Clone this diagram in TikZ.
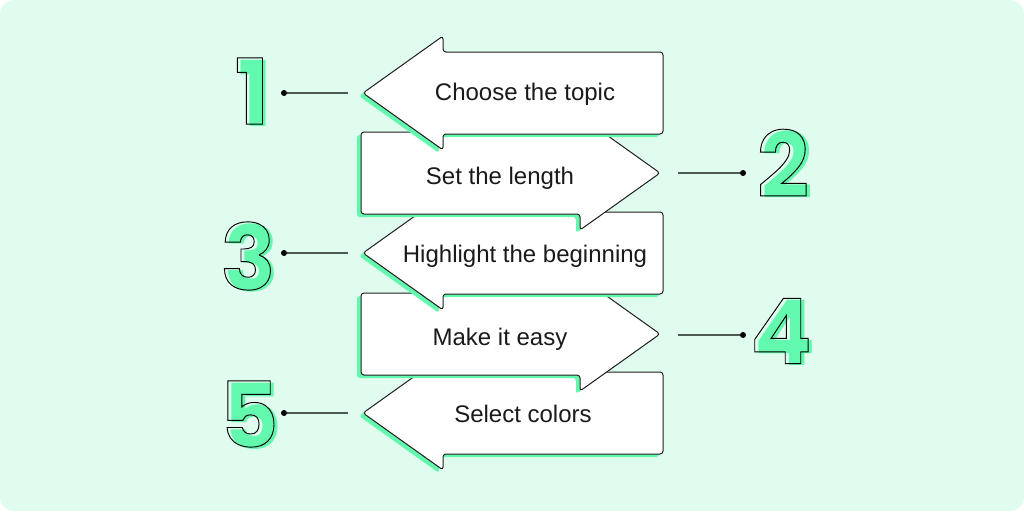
\documentclass[tikz,border=0pt]{standalone}
\usepackage{fontspec}
\setmainfont{Liberation Sans}
\newfontfamily\digitfont{Poppins}[UprightFont=* Bold]
\definecolor{bgmint}{HTML}{E0FCEE}
\definecolor{mintgreen}{HTML}{62F9AE}
\definecolor{edge}{HTML}{1E1E1E}
\definecolor{wire}{HTML}{4D5A52}
\definecolor{ink}{HTML}{1A1A1A}
\newcommand{\strokedtext}[1]{\special{pdf:literal direct 1 Tr 0.7 w 0 0 0 RG}#1\special{pdf:literal direct 0 Tr}}
\tikzset{
  arrowbox/.style={fill=white, draw=edge, line width=0.75pt, rounded corners=2.2pt, line join=round},
  arrowshadow/.style={fill=mintgreen, rounded corners=2.2pt},
  label/.style={font=\fontsize{18}{20}\selectfont, text=ink, inner sep=0pt, anchor=base},
  digitfill/.style={font=\digitfont\fontsize{68}{68}\selectfont, text=mintgreen, inner sep=0pt},
  digitline/.style={font=\digitfont\fontsize{68}{68}\selectfont, text=edge, inner sep=0pt},
  dotnode/.style={circle, fill=black, inner sep=0pt, minimum size=4.5pt},
  wireline/.style={draw=wire, line width=1pt}
}
\newcommand{\leftarrowshape}[1]{%
  (363,#1) -- (443,#1-57) -- (443,#1-41) -- (663,#1-41) -- (663,#1+41) -- (443,#1+41) -- (443,#1+57) -- cycle}
\newcommand{\rightarrowshape}[1]{%
  (361,#1-41) -- (580,#1-41) -- (580,#1-57) -- (660,#1) -- (580,#1+57) -- (580,#1+41) -- (361,#1+41) -- cycle}
\begin{document}
\begin{tikzpicture}[x=0.75pt,y=-0.75pt]
\useasboundingbox (0,0) rectangle (1024,511);
\fill[white] (0,0) rectangle (1024,511);
\fill[bgmint, rounded corners=11pt] (0,0) rectangle (1024,511);

% arrows, bottom first
\fill[arrowshadow, shift={(-4,3)}] \leftarrowshape{413};
\draw[arrowbox] \leftarrowshape{413};
\fill[arrowshadow, shift={(-4,3)}] \rightarrowshape{334};
\draw[arrowbox] \rightarrowshape{334};
\fill[arrowshadow, shift={(-4,3)}] \leftarrowshape{253};
\draw[arrowbox] \leftarrowshape{253};
\fill[arrowshadow, shift={(-4,3)}] \rightarrowshape{173};
\draw[arrowbox] \rightarrowshape{173};
\fill[arrowshadow, shift={(-4,3)}] \leftarrowshape{93};
\draw[arrowbox] \leftarrowshape{93};

% labels
\node[label] (t1) at (525,100) {Choose the topic};
\node[label] (t2) at (500,184) {Set the length};
\node[label] (t3) at (525,262) {Highlight the beginning};
\node[label] (t4) at (500,345) {Make it easy};
\node[label] (t5) at (523,422) {Select colors};

% connectors
\node[dotnode] (d1) at (284,93) {};
\coordinate (e1) at (348,93);
\draw[wireline] (d1) -- (e1);
\node[dotnode] (d2) at (743,173) {};
\coordinate (e2) at (678,173);
\draw[wireline] (e2) -- (d2);
\node[dotnode] (d3) at (284,253) {};
\coordinate (e3) at (348,253);
\draw[wireline] (d3) -- (e3);
\node[dotnode] (d4) at (743,335) {};
\coordinate (e4) at (678,335);
\draw[wireline] (e4) -- (d4);
\node[dotnode] (d5) at (284,413) {};
\coordinate (e5) at (348,413);
\draw[wireline] (d5) -- (e5);

% digits
\node[digitfill] (g1) at (256,93) {1};
\node[digitline] (n1) at (252,91) {\strokedtext{1}};
\node[digitfill] (g2) at (787,165) {2};
\node[digitline] (n2) at (783,163) {\strokedtext{2}};
\node[digitfill] (g3) at (252,258) {3};
\node[digitline] (n3) at (248,256) {\strokedtext{3}};
\node[digitfill] (g4) at (785,333) {4};
\node[digitline] (n4) at (781,331) {\strokedtext{4}};
\node[digitfill] (g5) at (253,416) {5};
\node[digitline] (n5) at (249,414) {\strokedtext{5}};
\end{tikzpicture}
\end{document}
